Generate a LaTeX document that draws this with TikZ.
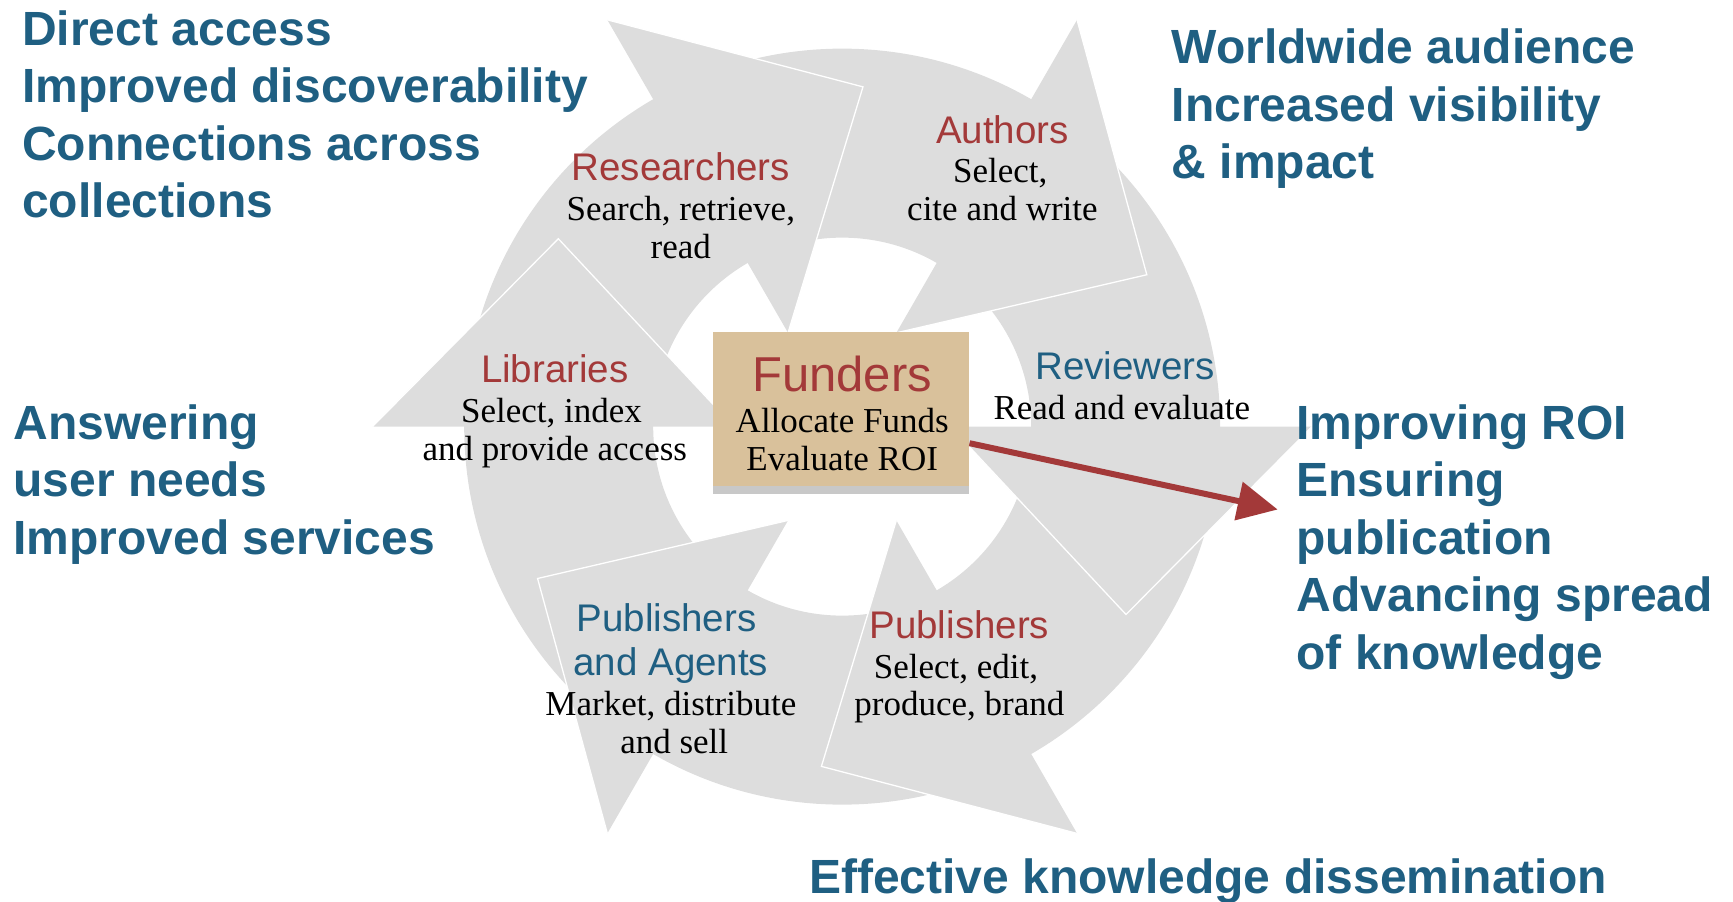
\documentclass[tikz,border=0pt]{standalone}
\usepackage{fontspec}
\setmainfont{Liberation Serif}
\newfontfamily\sansfam{Liberation Sans}
\usetikzlibrary{arrows.meta,positioning}
\definecolor{rimblue}{RGB}{31,95,130}
\definecolor{rolered}{RGB}{163,57,57}
\definecolor{ringgray}{RGB}{221,221,221}
\definecolor{fundtan}{RGB}{217,193,155}
\definecolor{stripgray}{RGB}{200,200,200}
\tikzset{
    ring/.style={fill=ringgray},
    head edge/.style={white, line width=1.3pt},
    outcome/.style={font=\sansfam\bfseries\fontsize{48}{57.5}\selectfont, text=rimblue, anchor=base west, inner sep=0pt},
    role/.style={font=\sansfam\fontsize{38.5}{46}\selectfont, text=rolered, anchor=base, inner sep=0pt},
    task/.style={font=\fontsize{35}{38}\selectfont, anchor=base, inner sep=0pt},
    funds/.style={fill=fundtan, minimum width=256.4pt, minimum height=154pt, inner sep=0pt},
    payoff/.style={draw=rolered, line width=6pt, -{Triangle[length=40pt,width=38pt]}},
}

\begin{document}
\begin{tikzpicture}[x=1.1052pt, y=-1.1052pt]
    \useasboundingbox (0,0) rectangle (1568,816);
    % the cycle of arrows
    \begin{scope}[shift={(762,386)}, yscale=-1]
        \fill[ring, even odd rule] (0,0) circle[radius=342] (0,0) circle[radius=171];
        \foreach \a in {180,120,...,-120} {
            \fill[ring] (\a:425) -- (\a-33.5:308) -- (\a:98) -- cycle;
            \draw[head edge] (\a:425) -- (\a-33.5:308) -- (\a:98);
        }
    \end{scope}

    % funders in the middle
    \fill[stripgray] (645,430) rectangle (877,447);
    \node[funds] (fund) at (761,370.5) {};
    \node[role, font=\sansfam\fontsize{49}{55}\selectfont] (fundname) at (762,354) {Funders};
    \node[task] (fundtask1) at (762,391.5) {Allocate Funds};
    \node[task] (fundtask2) at (762,425.5) {Evaluate ROI};
    \coordinate (roi) at (1156,461);
    \draw[payoff] ([yshift=-33.7pt]fund.east) -- (roi);

    % roles
    \node[role] (res) at (616,163.5) {Researchers};
    \node[task] (res1) at (616,199.5) {Search, retrieve,};
    \node[task] (res2) at (616,233.5) {read};
    \node[role] (aut) at (907,129.5) {Authors};
    \node[task] (aut1) at (905,165.5) {Select,};
    \node[task] (aut2) at (907,199.5) {cite and write};
    \node[role] (lib) at (502,346.5) {Libraries};
    \node[task] (lib1) at (499,382.5) {Select, index};
    \node[task] (lib2) at (502,416.5) {and provide access};
    \node[role, text=rimblue] (rev) at (1018,343.5) {Reviewers};
    \node[task] (rev1) at (1015,379.5) {Read and evaluate};
    \node[role] (pub) at (868,577.5) {Publishers};
    \node[task] (pub1) at (865,613.5) {Select, edit,};
    \node[task] (pub2) at (868,647.5) {produce, brand};
    \node[role, text=rimblue] (agt) at (603,571.5) {Publishers};
    \node[role, text=rimblue] (agt1) at (607,611.5) {and Agents};
    \node[task] (agt2) at (607,647.5) {Market, distribute};
    \node[task] (agt3) at (610,681.5) {and sell};

    % outcomes round the cycle
    \foreach \t [count=\i from 0] in {Direct access, Improved discoverability, Connections across, collections}
        \node[outcome] (tl\i) at (20,41+52*\i) {\t};
    \foreach \t [count=\i from 0] in {Worldwide audience, Increased visibility, \& impact}
        \node[outcome] (tr\i) at (1060,57.5+52*\i) {\t};
    \foreach \t [count=\i from 0] in {Answering, user needs, Improved services}
        \node[outcome] (ml\i) at (12,397.5+52*\i) {\t};
    \foreach \t [count=\i from 0] in {Improving ROI, Ensuring, publication, Advancing spread, of knowledge}
        \node[outcome] (mr\i) at (1173,397.5+52*\i) {\t};
    \node[outcome] (bot) at (732,808.5) {Effective knowledge dissemination};
\end{tikzpicture}
\end{document}
